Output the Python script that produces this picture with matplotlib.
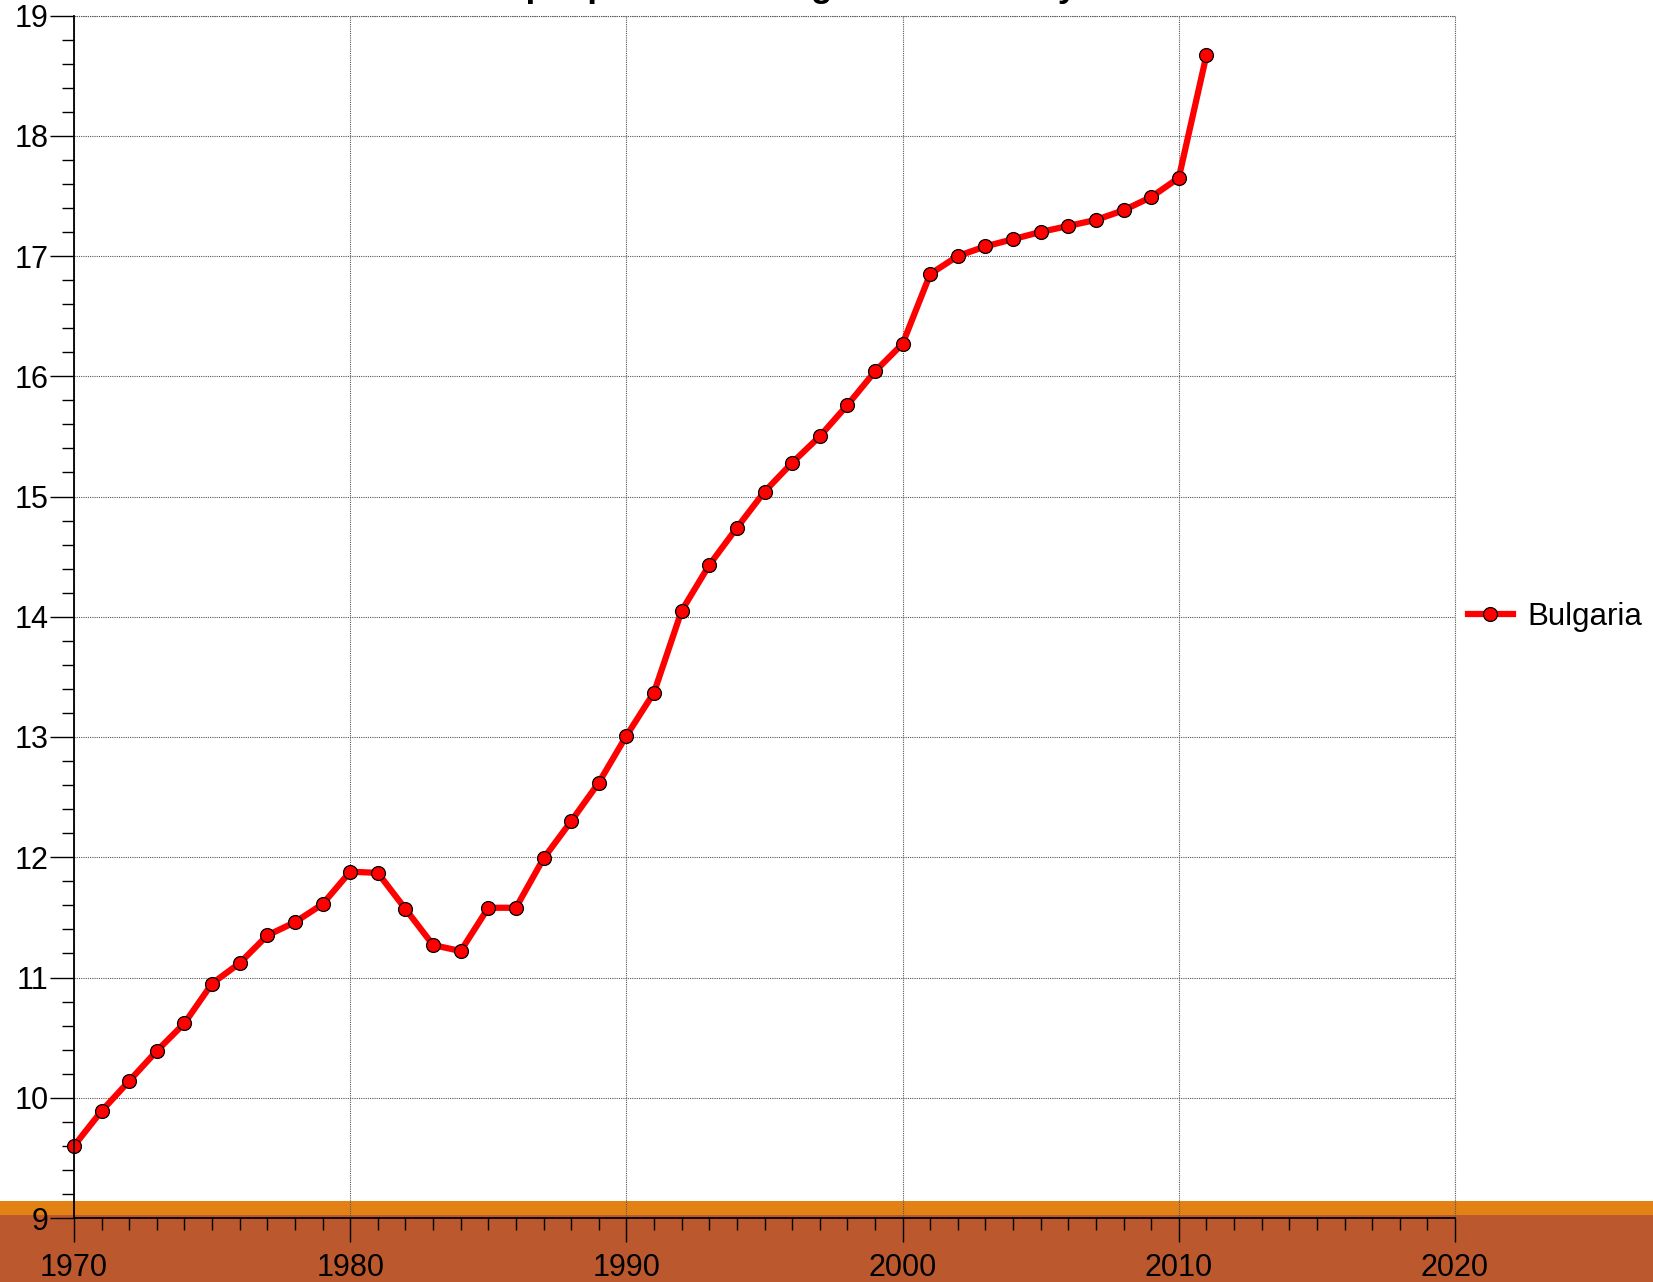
import matplotlib
matplotlib.use("Agg")
import matplotlib.pyplot as plt
from matplotlib.patches import Rectangle
from matplotlib.ticker import MultipleLocator

years = list(range(1970, 2012))
values = [9.60, 9.89, 10.14, 10.39, 10.62, 10.95, 11.12, 11.35, 11.46, 11.61,
          11.88, 11.87, 11.57, 11.27, 11.22, 11.58, 11.58, 11.99, 12.30, 12.62,
          13.01, 13.37, 14.05, 14.43, 14.74, 15.04, 15.28, 15.50, 15.76, 16.04,
          16.27, 16.85, 17.00, 17.08, 17.14, 17.20, 17.25, 17.30, 17.38, 17.49,
          17.65, 18.67]
series_name = "Bulgaria"
title = "Share of people over the age 65 in country"
x_ticks = [1970, 1980, 1990, 2000, 2010, 2020]
y_ticks = [9, 10, 11, 12, 13, 14, 15, 16, 17, 18, 19]

plt.rcParams['font.family'] = ['Liberation Sans', 'DejaVu Sans']

W, H = 1653, 1282
fig = plt.figure(figsize=(W / 100, H / 100), dpi=100)
fig.patch.set_facecolor('white')

# bottom bands
fig.patches.append(Rectangle((0, 0), 1, (H - 1215) / H, transform=fig.transFigure,
                             facecolor='#BC582D', edgecolor='none', zorder=-2))
fig.patches.append(Rectangle((0, (H - 1215) / H), 1, 14 / H, transform=fig.transFigure,
                             facecolor='#E38214', edgecolor='none', zorder=-2))

left, right = 74 / W, 1455 / W
bottom, top = 1 - 1218 / H, 1 - 15.5 / H
ax = fig.add_axes([left, bottom, right - left, top - bottom])
ax.patch.set_alpha(0)

ax.plot(years, values, color='#FF0000', lw=4.5, marker='o', ms=10,
        markerfacecolor='#FF0000', markeredgecolor='black', markeredgewidth=0.9,
        clip_on=False, zorder=5, label=series_name)

ax.set_xlim(1970, 2020)
ax.set_ylim(9, 19)
ax.set_xticks(x_ticks)
ax.set_yticks(y_ticks)
ax.xaxis.set_minor_locator(MultipleLocator(1))
ax.yaxis.set_minor_locator(MultipleLocator(0.2))
ax.tick_params(axis='both', which='major', direction='out', length=17, width=1.0,
               labelsize=22, color='black')
ax.tick_params(axis='both', which='minor', direction='out', length=8.5, width=1.0)
ax.tick_params(axis='y', pad=1.5)
ax.tick_params(axis='x', pad=8)

for s in ['top', 'right']:
    ax.spines[s].set_visible(False)
for s in ['left', 'bottom']:
    ax.spines[s].set_linewidth(1.3)
    ax.spines[s].set_zorder(6)

ax.grid(True, which='major', color='#555555', linestyle=(0, (1, 1)), linewidth=0.8)
# grid lines at top and right limits
ax.axhline(19, color='#555555', linestyle=(0, (1, 1)), linewidth=0.8, clip_on=False)
ax.axvline(2020, color='#555555', linestyle=(0, (1, 1)), linewidth=0.8, clip_on=False)

leg = ax.legend(loc='center left', bbox_to_anchor=(1.0, 0.5), frameon=False,
                fontsize=22.5, handlelength=1.45, handletextpad=0.45, borderaxespad=0.2,
                borderpad=0.2)

fig.text(0.44, 1.010, title, ha='center', va='center', fontsize=25,
         fontweight='bold')

fig.savefig('out.png', dpi=100)
